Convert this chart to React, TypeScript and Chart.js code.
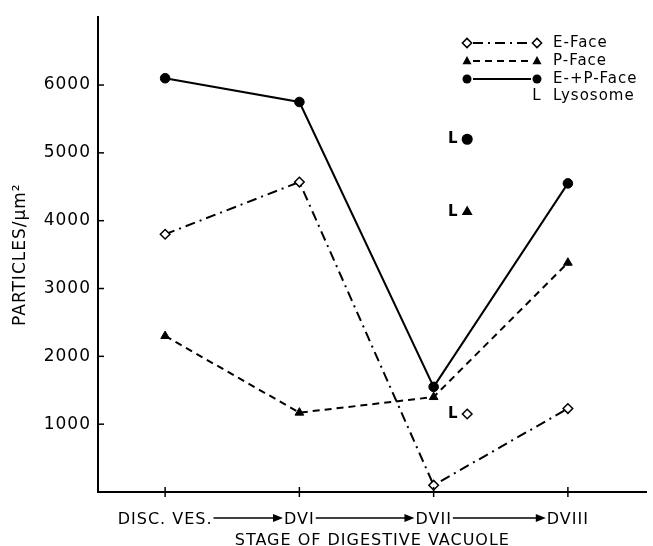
import React, { useEffect, useRef } from 'react';
import { Chart, registerables } from 'chart.js';

Chart.register(...registerables);

const FONT = '"DejaVu Sans", sans-serif';

const stages = ['DISC. VES.', 'DVI', 'DVII', 'DVIII'];
const stageIndex = [0, 1, 2, 3];
const eFace = [3800, 4570, 100, 1230];
const pFace = [2300, 1170, 1400, 3380];
const epFace = [6100, 5750, 1550, 4550];
const lysosomeX = 2.25;
const lysosomeValues = [5200, 4130, 1150]; // E+P, P, E
const lysosomeStyles = ['circle', 'triangle', 'rectRot'];
const lysosomeFills = ['#000', '#000', '#fff'];
const yTicks = [1000, 2000, 3000, 4000, 5000, 6000];
const legendLabels = ['E-Face', 'P-Face', 'E-+P-Face', 'Lysosome'];

const X_PAD = 18;

function marker(ctx: CanvasRenderingContext2D, style: string, x: number, y: number) {
  ctx.save();
  ctx.setLineDash([]);
  ctx.lineWidth = 1.5;
  ctx.strokeStyle = '#000';
  ctx.beginPath();
  if (style === 'circle') {
    ctx.fillStyle = '#000';
    ctx.arc(x, y, 4.5, 0, Math.PI * 2);
    ctx.fill();
  } else if (style === 'triangle') {
    ctx.fillStyle = '#000';
    ctx.moveTo(x, y - 5);
    ctx.lineTo(x + 4.5, y + 3.2);
    ctx.lineTo(x - 4.5, y + 3.2);
    ctx.closePath();
    ctx.fill();
  } else {
    ctx.fillStyle = '#fff';
    ctx.moveTo(x, y - 4.6);
    ctx.lineTo(x + 4.6, y);
    ctx.lineTo(x, y + 4.6);
    ctx.lineTo(x - 4.6, y);
    ctx.closePath();
    ctx.fill();
    ctx.stroke();
  }
  ctx.restore();
}

const decor = {
  id: 'decor',
  beforeDraw(chart: any) {
    chart.ctx.letterSpacing = '1px';
  },
  afterDraw(chart: any) {
    const ctx: CanvasRenderingContext2D = chart.ctx;
    const xs = chart.scales.x;
    const ys = chart.scales.y;
    ctx.save();
    ctx.strokeStyle = '#000';
    ctx.fillStyle = '#000';
    ctx.lineWidth = 1.5;
    ctx.setLineDash([]);
    // y tick marks (inward)
    yTicks.forEach((v) => {
      const py = ys.getPixelForValue(v);
      ctx.beginPath();
      ctx.moveTo(xs.left, py);
      ctx.lineTo(xs.left + 6, py);
      ctx.stroke();
    });
    // x tick marks (crossing)
    stageIndex.forEach((i) => {
      const px = xs.getPixelForValue(i);
      ctx.beginPath();
      ctx.moveTo(px, ys.bottom - 5);
      ctx.lineTo(px, ys.bottom + 5);
      ctx.stroke();
    });
    // arrows between stage labels
    ctx.font = `16px ${FONT}`;
    const ay = xs.top + X_PAD + 8;
    for (let i = 0; i < stages.length - 1; i++) {
      const x0 = xs.getPixelForValue(i) + ctx.measureText(stages[i]).width / 2 + 1;
      const x1 = xs.getPixelForValue(i + 1) - ctx.measureText(stages[i + 1]).width / 2 - 1;
      ctx.beginPath();
      ctx.moveTo(x0, ay);
      ctx.lineTo(x1 - 8, ay);
      ctx.stroke();
      ctx.beginPath();
      ctx.moveTo(x1, ay);
      ctx.lineTo(x1 - 10, ay - 4);
      ctx.lineTo(x1 - 10, ay + 4);
      ctx.closePath();
      ctx.fill();
    }
    // "L" next to lysosome points
    ctx.font = `bold 15px ${FONT}`;
    ctx.textAlign = 'center';
    ctx.textBaseline = 'middle';
    const meta = chart.getDatasetMeta(3);
    meta.data.forEach((pt: any) => {
      ctx.fillText('L', pt.x - 14, pt.y);
    });
    // legend
    const rows = [43, 61, 79, 96];
    const mx0 = 467;
    const mx1 = 537;
    const tx = 553;
    const dashes = [[10, 5, 2, 5], [7, 5], []];
    const styles = ['rectRot', 'triangle', 'circle'];
    for (let r = 0; r < 3; r++) {
      ctx.save();
      ctx.lineWidth = 2;
      ctx.setLineDash(dashes[r]);
      ctx.beginPath();
      ctx.moveTo(mx0 + 6, rows[r]);
      ctx.lineTo(mx1 - 6, rows[r]);
      ctx.stroke();
      ctx.restore();
      marker(ctx, styles[r], mx0, rows[r]);
      marker(ctx, styles[r], mx1, rows[r]);
    }
    ctx.font = `15px ${FONT}`;
    ctx.textAlign = 'center';
    ctx.fillText('L', mx1, rows[3]);
    ctx.textAlign = 'left';
    legendLabels.forEach((t, i) => ctx.fillText(t, tx, rows[i]));
    ctx.restore();
    ctx.letterSpacing = '0px';
  },
};

export default function App() {
  const ref = useRef<HTMLCanvasElement>(null);
  useEffect(() => {
    if (!ref.current) return;
    const pts = (vals: number[]) => vals.map((v, i) => ({ x: stageIndex[i], y: v }));
    const chart = new Chart(ref.current, {
      type: 'line',
      data: {
        datasets: [
          {
            label: legendLabels[0],
            data: pts(eFace),
            borderColor: '#000',
            borderWidth: 2,
            borderDash: [10, 5, 2, 5],
            pointStyle: 'rectRot',
            pointRadius: 4.8,
            pointBackgroundColor: '#fff',
            pointBorderColor: '#000',
            pointBorderWidth: 1.5,
            tension: 0,
            clip: false,
          },
          {
            label: legendLabels[1],
            data: pts(pFace),
            borderColor: '#000',
            borderWidth: 2,
            borderDash: [7, 5],
            pointStyle: 'triangle',
            pointRadius: 5,
            pointBackgroundColor: '#000',
            pointBorderColor: '#000',
            pointBorderWidth: 1,
            tension: 0,
            clip: false,
          },
          {
            label: legendLabels[2],
            data: pts(epFace),
            borderColor: '#000',
            borderWidth: 2,
            pointStyle: 'circle',
            pointRadius: 4.8,
            pointBackgroundColor: '#000',
            pointBorderColor: '#000',
            pointBorderWidth: 1,
            tension: 0,
            clip: false,
          },
          {
            label: legendLabels[3],
            data: lysosomeValues.map((v) => ({ x: lysosomeX, y: v })),
            showLine: false,
            borderColor: '#000',
            pointStyle: lysosomeStyles as any,
            pointRadius: 4.8,
            pointBackgroundColor: lysosomeFills,
            pointBorderColor: '#000',
            pointBorderWidth: 1.5,
            clip: false,
          },
        ],
      },
      options: {
        animation: false,
        responsive: false,
        maintainAspectRatio: false,
        events: [],
        layout: { padding: { top: 10, right: 2, left: 0, bottom: 0 } },
        plugins: { legend: { display: false }, tooltip: { enabled: false } },
        scales: {
          x: {
            type: 'linear',
            min: -0.5,
            max: 3.587,
            afterBuildTicks: (s: any) => {
              s.ticks = stageIndex.map((v) => ({ value: v }));
            },
            afterFit: (s: any) => {
              s.height = 54;
            },
            grid: { display: false, drawTicks: false },
            border: { display: true, color: '#000', width: 2 },
            ticks: {
              padding: X_PAD,
              color: '#000',
              maxRotation: 0,
              autoSkip: false,
              font: { family: FONT, size: 16 },
              callback: (v: any) => stages[v] ?? '',
            },
            title: {
              display: true,
              text: 'STAGE OF DIGESTIVE VACUOLE',
              color: '#000',
              font: { family: FONT, size: 16, lineHeight: 1 },
              padding: { top: 0, bottom: -3 },
            },
          },
          y: {
            type: 'linear',
            min: 0,
            max: 7000,
            afterBuildTicks: (s: any) => {
              s.ticks = yTicks.map((v) => ({ value: v }));
            },
            afterFit: (s: any) => {
              s.width = 98;
            },
            grid: { display: false, drawTicks: false },
            border: { display: true, color: '#000', width: 2 },
            ticks: {
              padding: 7,
              color: '#000',
              font: { family: FONT, size: 17 },
              callback: (v: any) => String(v),
            },
            title: {
              display: true,
              text: 'PARTICLES/μm²',
              color: '#000',
              font: { family: FONT, size: 17, lineHeight: 1 },
              padding: { top: 12, bottom: 0 },
            },
          },
        },
      },
      plugins: [decor],
    } as any);
    return () => chart.destroy();
  }, []);
  return (
    <div style={{ position: 'absolute', left: 0, top: 0, width: 653, height: 546, background: '#fff' }}>
      <canvas ref={ref} width={653} height={546} style={{ display: 'block' }} />
    </div>
  );
}
